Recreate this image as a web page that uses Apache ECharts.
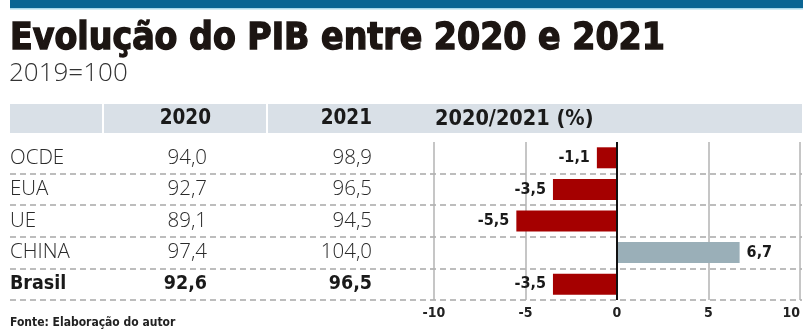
<!DOCTYPE html>
<html>
<head>
<meta charset="utf-8">
<script src="https://cdn.jsdelivr.net/npm/echarts@6/dist/echarts.min.js"></script>
<style>
html,body{margin:0;padding:0;background:#fff;}
#c{width:803px;height:332px;}
</style>
</head>
<body>
<div id="c"></div>
<script>
// ---- data ----
const titleText = 'Evolução do PIB entre 2020 e 2021';
const subtitleText = '2019=100';
const sourceText = 'Fonte: Elaboração do autor';
const headers = ['2020', '2021', '2020/2021 (%)'];
const categories = ['OCDE', 'EUA', 'UE', 'CHINA', 'Brasil'];
const values2020 = ['94,0', '92,7', '89,1', '97,4', '92,6'];
const values2021 = ['98,9', '96,5', '94,5', '104,0', '96,5'];
const change = [-1.1, -3.5, -5.5, 6.7, -3.5];
const xTicks = [-10, -5, 0, 5, 10];
const boldRow = 'Brasil';

// ---- styles ----
const RED = '#a50000';
const GREY = '#9aafb8';
const tableFont = '"Open Sans", "Noto Sans", sans-serif';
const boldFont = '"DejaVu Sans Condensed", "DejaVu Sans", sans-serif';

const fmt = v => v.toFixed(1).replace('.', ',');

const barData = change.map(v => ({
  value: v,
  itemStyle: { color: v < 0 ? RED : GREY },
  label: { position: v < 0 ? 'left' : 'right' }
}));

const chart = echarts.init(document.getElementById('c'), null, { renderer: 'canvas' });

const rowLabel = (name, i) => {
  const b = name === boldRow ? 'B' : '';
  return '{n' + b + '|' + name + '}{a' + b + '|' + values2020[i] + '}{b' + b + '|' + values2021[i] + '}';
};

const baseTok = { fontFamily: tableFont, fontSize: 20.5, color: '#2a2a2a', fontWeight: 300 };
const boldTok = { fontFamily: boldFont, fontSize: 19.5, color: '#1a1a1a', fontWeight: 'bold' };

chart.setOption({
  animation: false,
  backgroundColor: '#fff',
  graphic: [
    { type: 'rect', shape: { x: 10, y: 0, width: 793, height: 8 }, style: { fill: '#0a6593' } },
    { type: 'rect', shape: { x: 10, y: 8, width: 793, height: 1.5 }, style: { fill: '#a8d8ea' } },
    { type: 'text', x: 10, y: 21, style: { text: titleText, font: 'bold 37px "DejaVu Sans Condensed", "DejaVu Sans", sans-serif', fill: '#1c1512', stroke: '#1c1512', lineWidth: 1.3 } },
    { type: 'text', x: 9, y: 61, style: { text: subtitleText, font: '300 26px "Open Sans", "Noto Sans", sans-serif', fill: '#333' } },
    { type: 'rect', shape: { x: 10, y: 104, width: 792, height: 29 }, style: { fill: '#d9e0e7' } },
    { type: 'rect', shape: { x: 102, y: 104, width: 2, height: 29 }, style: { fill: '#fff' } },
    { type: 'rect', shape: { x: 266, y: 104, width: 2, height: 29 }, style: { fill: '#fff' } },
    { type: 'text', x: 211, y: 119, style: { text: headers[0], font: 'bold 20.5px ' + boldFont, fill: '#1a1a1a', textAlign: 'right', textVerticalAlign: 'middle' } },
    { type: 'text', x: 372, y: 119, style: { text: headers[1], font: 'bold 20.5px ' + boldFont, fill: '#1a1a1a', textAlign: 'right', textVerticalAlign: 'middle' } },
    { type: 'text', x: 435, y: 119, style: { text: headers[2], font: 'bold 21.5px ' + boldFont, fill: '#1a1a1a', textAlign: 'left', textVerticalAlign: 'middle' } },
    { type: 'text', x: 10, y: 317, style: { text: sourceText, font: 'bold 12px ' + boldFont, fill: '#222' } }
  ],
  grid: [
    { left: 434, right: 1, top: 142, height: 158 },
    { left: 10, right: 1, top: 142, height: 158 }
  ],
  xAxis: [
    {
      gridIndex: 0, type: 'value', min: -10, max: 10, interval: 5,
      axisLine: { show: false }, axisTick: { show: false },
      splitLine: { show: true, lineStyle: { color: '#b3b3b3', width: 1.5 } },
      axisLabel: {
        margin: 6, fontFamily: boldFont, fontWeight: 'bold', fontSize: 14, color: '#222',
        alignMaxLabel: 'right',
        formatter: v => xTicks.includes(v) ? String(v) : ''
      }
    },
    { gridIndex: 1, type: 'value', show: false }
  ],
  yAxis: [
    {
      gridIndex: 0, type: 'category', data: categories, inverse: true,
      axisLine: { show: false }, axisTick: { show: false }, axisLabel: { show: false },
      splitLine: { show: false }
    },
    {
      gridIndex: 1, type: 'category', data: categories, inverse: true,
      axisLine: { show: false }, axisTick: { show: false },
      splitLine: { show: true, showMinLine: false, showMaxLine: true, lineStyle: { color: '#a8a8a8', width: 1.5, type: [6, 4] } },
      axisLabel: {
        inside: true, margin: 0, interval: 0, align: 'left',
        formatter: rowLabel,
        rich: {
          n: Object.assign({}, baseTok, { width: 100, align: 'left' }),
          a: Object.assign({}, baseTok, { width: 97, align: 'right' }),
          b: Object.assign({}, baseTok, { width: 165, align: 'right' }),
          nB: Object.assign({}, boldTok, { width: 100, align: 'left' }),
          aB: Object.assign({}, boldTok, { width: 97, align: 'right' }),
          bB: Object.assign({}, boldTok, { width: 165, align: 'right' })
        }
      }
    }
  ],
  series: [
    {
      type: 'bar', xAxisIndex: 0, yAxisIndex: 0, data: barData, barWidth: 21,
      label: {
        show: true, distance: 7, fontFamily: boldFont, fontWeight: 'bold', fontSize: 16, color: '#1a1a1a',
        formatter: p => fmt(p.value)
      },
      markLine: {
        silent: true, symbol: 'none', label: { show: false },
        lineStyle: { color: '#111', width: 2, type: 'solid' },
        data: [{ xAxis: 0 }]
      }
    }
  ]
});
</script>
</body>
</html>
